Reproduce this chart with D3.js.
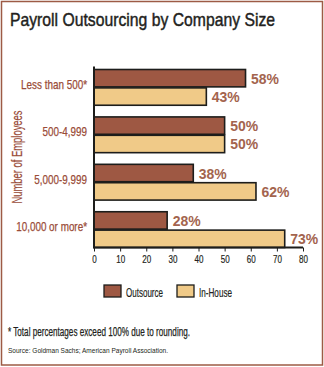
<!DOCTYPE html>
<html><head><meta charset="utf-8">
<script src="https://cdn.jsdelivr.net/npm/d3@7"></script>
<style>
body{margin:0;background:#fff;}
svg{display:block;}
text{font-family:"Liberation Sans",Arial,sans-serif;}
</style></head>
<body><svg id="c" width="324" height="367"></svg>
<script>
const title = "Payroll Outsourcing by Company Size";
const categories = ["Less than 500*", "500-4,999", "5,000-9,999", "10,000 or more*"];
const seriesNames = ["Outsource", "In-House"];
const outsource = [58, 50, 38, 28];
const inHouse = [43, 50, 62, 73];
const xTicks = [0, 10, 20, 30, 40, 50, 60, 70, 80];
const yTitle = "Number of Employees";
const footnote = "* Total percentages exceed 100% due to rounding.";
const source = "Source: Goldman Sachs; American Payroll Association.";

const colors = {"Outsource": "#9e5843", "In-House": "#f0ca88"};
const labelColor = "#a3644e";
const borderColor = "#9d5b45";

function condense(sel, f){
  sel.each(function(){
    const w = this.getComputedTextLength();
    d3.select(this).attr("textLength", w*f).attr("lengthAdjust","spacingAndGlyphs");
  });
}

const svg = d3.select("#c");
svg.append("rect").attr("x",1.5).attr("y",1.5).attr("width",321).attr("height",363.5)
  .attr("fill","#fff").attr("stroke",borderColor).attr("stroke-width",1.5);

svg.append("text").attr("x",10).attr("y",26).attr("font-size",18.5).attr("fill","#231f20")
  .attr("stroke","#231f20").attr("stroke-width",0.45)
  .attr("textLength",265).attr("lengthAdjust","spacingAndGlyphs").text(title);

const x = d3.scaleLinear().domain([0,80]).range([94,303]);
const y = d3.scaleBand().domain(categories).range([69,248]).paddingInner(0.225).paddingOuter(0);
const ySub = d3.scaleBand().domain(seriesNames).range([0,y.bandwidth()]);

const data = categories.map((c,i)=>({cat:c, vals:[{s:"Outsource",v:outsource[i]},{s:"In-House",v:inHouse[i]}]}));

const g = svg.append("g");
const groups = g.selectAll("g.grp").data(data).join("g").attr("class","grp")
  .attr("transform",d=>`translate(0,${y(d.cat)})`);
groups.selectAll("rect").data(d=>d.vals).join("rect")
  .attr("x",x(0)).attr("y",d=>ySub(d.s)+0.5)
  .attr("width",d=>x(d.v)-x(0)).attr("height",ySub.bandwidth()-1)
  .attr("fill",d=>colors[d.s]).attr("stroke","#1d1d1b").attr("stroke-width",1.6);
groups.selectAll("text").data(d=>d.vals).join("text")
  .attr("x",d=>x(d.v)+5.5).attr("y",d=>ySub(d.s)+ySub.bandwidth()/2+5.5)
  .attr("font-size",15.5).attr("font-weight","bold").attr("fill",labelColor)
  .text(d=>d.v+"%").call(condense,0.9);

// y axis
const yAxis = d3.axisLeft(y).tickSize(0).tickPadding(7);
const ya = svg.append("g").attr("transform",`translate(${x(0)},0)`).call(yAxis);
ya.select(".domain").remove();
ya.selectAll("text").attr("font-size",13).attr("fill","#9a4c38")
  .attr("stroke","#9a4c38").attr("stroke-width",0.25)
  .style("font-family",'"Liberation Sans",Arial,sans-serif').attr("dy","0.1em")
  .call(condense,0.76);
svg.append("line").attr("x1",x(0)).attr("x2",x(0)).attr("y1",66.5).attr("y2",248)
  .attr("stroke","#1d1d1b").attr("stroke-width",2);

// x axis
const xAxis = d3.axisBottom(x).tickValues(xTicks).tickSize(4).tickPadding(3).tickFormat(d3.format("d"));
const xa = svg.append("g").attr("transform","translate(0,247.5)").call(xAxis);
xa.select(".domain").attr("stroke","#1d1d1b").attr("stroke-width",2).attr("d",`M${x(0)-1},0H${x(80)}`);
xa.selectAll(".tick line").attr("stroke","#1d1d1b").attr("stroke-width",1);
xa.selectAll("text").attr("font-size",11.5).attr("fill","#231f20")
  .attr("stroke","#231f20").attr("stroke-width",0.2)
  .style("font-family",'"Liberation Sans",Arial,sans-serif').call(condense,0.7);

// y title
svg.append("text").attr("transform","translate(22,157) rotate(-90)").attr("text-anchor","middle")
  .attr("font-size",14).attr("fill","#9a4c38").attr("stroke","#9a4c38").attr("stroke-width",0.2)
  .text(yTitle).attr("textLength",93).attr("lengthAdjust","spacingAndGlyphs");

// legend
const legX = [104, 177];
const legW = [37, 33];
const leg = svg.selectAll("g.leg").data(seriesNames).join("g").attr("class","leg")
  .attr("transform",(d,i)=>`translate(${legX[i]},285)`);
leg.append("rect").attr("width",17).attr("height",12).attr("fill",d=>colors[d])
  .attr("stroke","#1d1d1b").attr("stroke-width",1.3);
leg.append("text").attr("x",22).attr("y",11.5).attr("font-size",13).attr("fill","#231f20")
  .attr("stroke","#231f20").attr("stroke-width",0.2).text(d=>d)
  .attr("textLength",(d,i)=>legW[i]).attr("lengthAdjust","spacingAndGlyphs");

svg.append("text").attr("x",8).attr("y",336).attr("font-size",12.5).attr("fill","#231f20")
  .attr("stroke","#231f20").attr("stroke-width",0.25)
  .attr("textLength",182).attr("lengthAdjust","spacingAndGlyphs").text(footnote);
svg.append("text").attr("x",8).attr("y",353).attr("font-size",8).attr("fill","#231f20")
  .attr("textLength",160).attr("lengthAdjust","spacingAndGlyphs").text(source);
</script></body></html>
